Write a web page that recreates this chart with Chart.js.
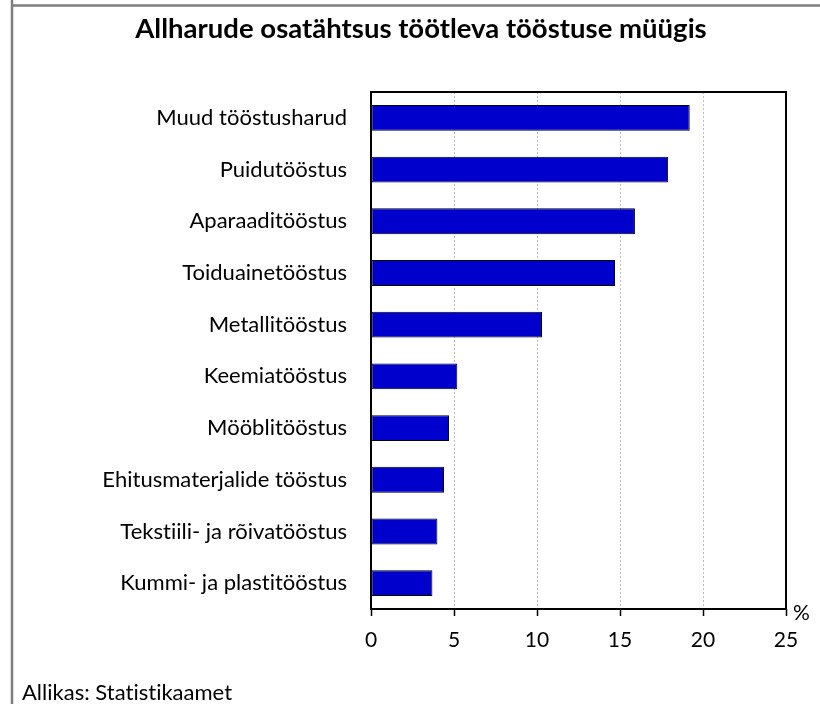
<!DOCTYPE html>
<html>
<head>
<meta charset="utf-8">
<script src="https://cdn.jsdelivr.net/npm/chart.js@4.4.1/dist/chart.umd.min.js"></script>
<style>
html,body{margin:0;padding:0;background:#fff;}
#wrap{width:820px;height:704px;position:relative;}
</style>
</head>
<body>
<div id="wrap"><canvas id="c" width="820" height="704"></canvas></div>
<script>
const categories = [
  "Muud tööstusharud",
  "Puidutööstus",
  "Aparaaditööstus",
  "Toiduainetööstus",
  "Metallitööstus",
  "Keemiatööstus",
  "Mööblitööstus",
  "Ehitusmaterjalide tööstus",
  "Tekstiili- ja rõivatööstus",
  "Kummi- ja plastitööstus"
];
const shares = [19.2, 17.9, 15.9, 14.7, 10.3, 5.2, 4.7, 4.4, 4.0, 3.7];
const xTicks = [0, 5, 10, 15, 20, 25];
const titleText = "Allharude osatähtsus töötleva tööstuse müügis";
const unitText = "%";
const sourceText = "Allikas: Statistikaamet";

const FONT = "Lato";

const decor = {
  id: 'decor',
  beforeDraw(chart) {
    const ctx = chart.ctx;
    try { ctx.letterSpacing = '0.01px'; } catch (e) {}
    ctx.save();
    ctx.fillStyle = '#fff';
    ctx.fillRect(0, 0, chart.width, chart.height);
    ctx.strokeStyle = '#7f7f7f';
    ctx.lineWidth = 2.5;
    ctx.beginPath();
    ctx.moveTo(12, 0); ctx.lineTo(12, chart.height);
    ctx.moveTo(12, 5.5); ctx.lineTo(chart.width, 5.5);
    ctx.stroke();
    ctx.restore();
  },
  afterDraw(chart) {
    const ctx = chart.ctx;
    const a = chart.chartArea;
    ctx.save();
    ctx.strokeStyle = '#000';
    ctx.lineWidth = 2;
    ctx.strokeRect(a.left, a.top, a.right - a.left, a.bottom - a.top);
    ctx.fillStyle = '#000';
    ctx.font = 'bold 27.5px ' + FONT;
    ctx.textAlign = 'center';
    ctx.textBaseline = 'alphabetic';
    ctx.fillText(titleText, 421, 38);
    ctx.font = '21px ' + FONT;
    ctx.textAlign = 'left';
    ctx.fillText(unitText, a.right + 7, a.bottom + 11);
    ctx.font = '22px ' + FONT;
    ctx.fillText(sourceText, 22, 700);
    ctx.restore();
  }
};

new Chart(document.getElementById('c'), {
  type: 'bar',
  data: {
    labels: categories,
    datasets: [{
      data: shares,
      backgroundColor: '#0000CC',
      borderColor: '#000',
      borderWidth: 1,
      borderSkipped: false,
      barPercentage: 0.5,
      categoryPercentage: 1.0
    }]
  },
  options: {
    indexAxis: 'y',
    responsive: false,
    animation: false,
    events: [],
    layout: { padding: { left: 0, top: 92, right: 34, bottom: 0 } },
    plugins: { legend: { display: false }, title: { display: false }, tooltip: { enabled: false } },
    scales: {
      x: {
        type: 'linear',
        position: 'bottom',
        min: 0, max: 25,
        afterBuildTicks(s) { s.ticks = xTicks.map(v => ({ value: v })); },
        afterFit(s) { s.height = 95; },
        border: { display: false, dash: [2, 2] },
        grid: {
          color: (c) => (c.tick && (c.tick.value === 0 || c.tick.value === 25)) ? 'rgba(0,0,0,0)' : '#bfbfbf',
          lineWidth: 1,
          drawTicks: true,
          tickLength: 7,
          tickColor: '#000',
          tickWidth: 1.5,
          tickBorderDash: []
        },
        ticks: {
          color: '#000',
          font: { family: FONT, size: 21 },
          padding: 12,
          maxRotation: 0
        }
      },
      y: {
        afterFit(s) { s.width = 371; },
        border: { display: false },
        grid: { display: false, drawTicks: false },
        ticks: {
          color: '#000',
          font: { family: FONT, size: 22 },
          padding: 24
        }
      }
    }
  },
  plugins: [decor]
});
</script>
</body>
</html>
